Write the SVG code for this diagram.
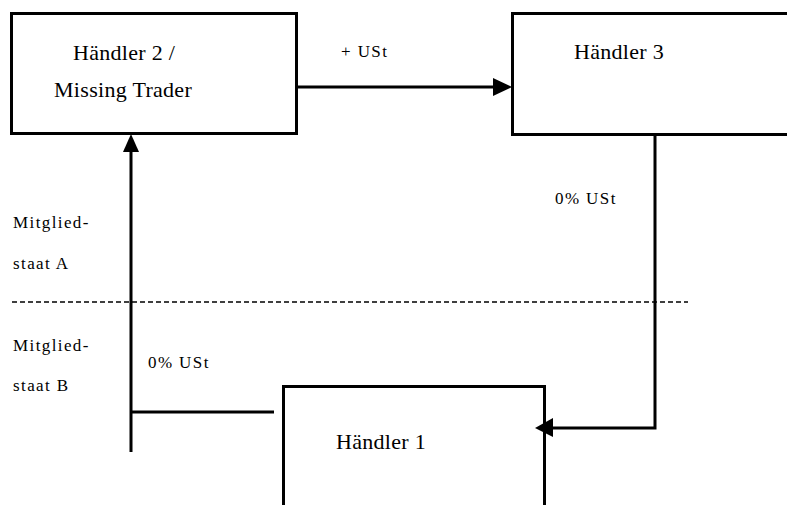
<svg xmlns="http://www.w3.org/2000/svg" width="787" height="505" viewBox="0 0 787 505">
<defs>
<style>
.box{fill:#fff;stroke:#000;stroke-width:3}
.ln{fill:none;stroke:#000;stroke-width:3}
.dash{stroke:#000;stroke-width:1.5;stroke-dasharray:5 3;fill:none}
</style>
</defs>
<rect width="787" height="505" fill="#fff"/>
<g id="node-haendler2">
<rect class="box" x="11.5" y="13.5" width="285" height="120"/>
<text font-family="Liberation Serif" font-size="22" letter-spacing="0.3" x="73" y="60">Händler 2 /</text>
<text font-family="Liberation Serif" font-size="22" letter-spacing="0.3" x="54" y="97">Missing Trader</text>
</g>
<g id="node-haendler3">
<rect class="box" x="512.5" y="13.5" width="290" height="121"/>
<text font-family="Liberation Serif" font-size="22" letter-spacing="0.3" x="574" y="59">Händler 3</text>
</g>
<g id="node-haendler1">
<rect class="box" x="283.5" y="386.5" width="261" height="140"/>
<text font-family="Liberation Serif" font-size="22" letter-spacing="0.3" x="336" y="449">Händler 1</text>
</g>
<g id="connectors">
<line class="dash" x1="12" y1="302" x2="688" y2="302"/>
<line class="ln" x1="297" y1="87" x2="496" y2="87"/>
<polygon points="512,87 493,78 493,96"/>
<polyline class="ln" points="655,135 655,428 551,428"/>
<polygon points="535,428 553,418 553,437"/>
<line class="ln" x1="131" y1="452" x2="131" y2="150"/>
<polygon points="131,134 123,152 139,152"/>
<line class="ln" x1="131" y1="412" x2="274" y2="412"/>
</g>
<g id="labels">
<text font-family="Liberation Serif" font-size="17" letter-spacing="1.4" x="341" y="57">+ USt</text>
<text font-family="Liberation Serif" font-size="17" letter-spacing="1.4" x="555" y="204">0% USt</text>
<text font-family="Liberation Serif" font-size="17" letter-spacing="1.4" x="148" y="368">0% USt</text>
<text font-family="Liberation Serif" font-size="17" letter-spacing="1.4" x="13" y="228">Mitglied-</text>
<text font-family="Liberation Serif" font-size="17" letter-spacing="1.4" x="13" y="269">staat A</text>
<text font-family="Liberation Serif" font-size="17" letter-spacing="1.4" x="13" y="351">Mitglied-</text>
<text font-family="Liberation Serif" font-size="17" letter-spacing="1.4" x="13" y="391">staat B</text>
</g>
</svg>
